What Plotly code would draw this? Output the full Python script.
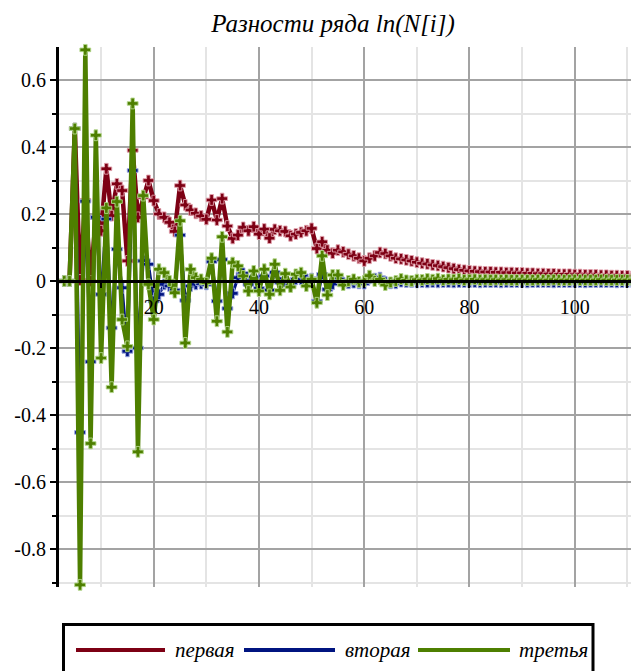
import plotly.graph_objects as go

# ---------------- data ----------------
i_values = list(range(3, 114))

first_diff = [
    0, 0, 0.455, 0.003, 0.241, 0.0, 0.19, 0.15, 0.335, 0.195,
    0.29, 0.27, 0.06, 0.39, 0.19, 0.25, 0.30, 0.24, 0.20, 0.19,
    0.175, 0.148, 0.285, 0.227, 0.212, 0.202, 0.194, 0.184, 0.242, 0.182,
    0.246, 0.164, 0.127, 0.137, 0.16, 0.15, 0.162, 0.14, 0.155, 0.128,
    0.154, 0.15, 0.148, 0.135, 0.14, 0.145, 0.15, 0.157, 0.097, 0.117,
    0.092, 0.083, 0.092, 0.087, 0.08, 0.075, 0.068, 0.06, 0.068, 0.075,
    0.085, 0.082, 0.075, 0.068, 0.066, 0.063, 0.06, 0.056, 0.053, 0.051,
    0.048, 0.046, 0.043, 0.040, 0.037, 0.034, 0.032, 0.030, 0.029, 0.028,
    0.027, 0.027, 0.026, 0.026, 0.025, 0.025, 0.024, 0.024, 0.023, 0.023,
    0.022, 0.022, 0.021, 0.021, 0.020, 0.020, 0.020, 0.019, 0.019, 0.018,
    0.018, 0.018, 0.017, 0.017, 0.016, 0.016, 0.015, 0.015, 0.014, 0.014,
    0.014,
]

second_diff = [
    0, 0, 0.455, -0.452, 0.238, -0.241, 0.19, -0.04, 0.185, -0.14,
    0.095, -0.02, -0.21, 0.33, -0.20, 0.06, 0.05, -0.06, -0.04, -0.01,
    -0.015, -0.027, 0.137, -0.058, -0.015, -0.01, -0.008, -0.01, 0.058, -0.06,
    0.064, -0.082, -0.037, 0.01, 0.023, -0.01, 0.012, -0.022, 0.015, -0.027,
    0.026, -0.004, -0.002, -0.013, 0.005, 0.005, 0.005, 0.007, -0.06, 0.02,
    -0.025, -0.009, 0.009, -0.005, -0.007, -0.005, -0.007, -0.008, 0.008, 0.007,
    0.01, -0.003, -0.007, -0.007, -0.002, -0.003, -0.003, -0.004, -0.003, -0.004,
    -0.003, -0.004, -0.003, -0.003, -0.004, -0.003, -0.003, -0.003, -0.003, -0.004,
    -0.003, -0.003, -0.003, -0.004, -0.003, -0.003, -0.003, -0.003, -0.004, -0.003,
    -0.003, -0.003, -0.003, -0.004, -0.003, -0.003, -0.003, -0.003, -0.003, -0.004,
    -0.003, -0.003, -0.003, -0.003, -0.003, -0.004, -0.003, -0.003, -0.003, -0.003,
    -0.003,
]

third_diff = [
    0, 0, 0.455, -0.907, 0.69, -0.485, 0.435, -0.23, 0.218, -0.317,
    0.237, -0.115, -0.195, 0.53, -0.51, 0.255, -0.01, -0.115, 0.035, 0.025,
    0.0, -0.035, 0.18, -0.185, 0.035, 0.01, 0.005, -0.005, 0.068, -0.12,
    0.132, -0.152, 0.055, 0.045, 0.015, -0.03, 0.03, -0.03, 0.035, -0.04,
    0.05, -0.028, 0.022, -0.018, 0.02, 0.025, -0.015, 0.005, -0.065, 0.075,
    -0.042, 0.018, 0.018, -0.012, 0.0, 0.005, -0.003, 0.0, 0.016, 0.0,
    0.005, -0.012, -0.004, 0.0, 0.006, 0.002, 0.0, 0.004, 0.003, 0.006,
    0.004, 0.007, 0.003, 0.005, 0.004, 0.006, 0.003, 0.004, 0.005, 0.003,
    0.004, 0.003, 0.004, 0.003, 0.004, 0.003, 0.003, 0.004, 0.003, 0.003,
    0.004, 0.003, 0.003, 0.004, 0.003, 0.003, 0.003, 0.004, 0.003, 0.003,
    0.003, 0.003, 0.004, 0.003, 0.003, 0.003, 0.003, 0.003, 0.003, 0.003,
    0.003,
]

series_names = ["первая", "вторая", "третья"]
series_values = [first_diff, second_diff, third_diff]

x_tick_vals = [20, 40, 60, 80, 100]
x_tick_text = ["20", "40", "60", "80", "100"]
y_tick_vals = [-0.8, -0.6, -0.4, -0.2, 0, 0.2, 0.4, 0.6]
y_tick_text = ["-0.8", "-0.6", "-0.4", "-0.2", "0", "0.2", "0.4", "0.6"]

title_text = "Разности ряда ln(N[i])"

# ---------------- styling ----------------
series_colors = ["#7d0014", "#001480", "#4e7f00"]
halo_colors = ["rgba(225,160,172,0.9)", "rgba(160,172,225,0.9)", "rgba(180,215,140,0.9)"]
line_widths = [4.5, 3, 4.5]

# the page body adds an 8px margin: positions below are window pixels
OFF = 8
WIN_W, WIN_H = 639, 671
W, H = WIN_W - OFF, WIN_H - OFF


def fx(px):
    return px - OFF


PLOT_L, PLOT_R, PLOT_T, PLOT_B = fx(59), fx(639), fx(47), fx(587)
X0 = 2
PX_PER_X = 5.2625
X1 = X0 + (PLOT_R - PLOT_L) / PX_PER_X
Y_TOP = 0.6985
PX_PER_Y = 335.0
Y_BOT = Y_TOP - (PLOT_B - PLOT_T) / PX_PER_Y
zero_pos = (0 - Y_BOT) / (Y_TOP - Y_BOT)

SERIF = "Liberation Serif"
MAJOR_GRID = "#a3a3a3"
MINOR_GRID = "#e4e4e4"

fig = go.Figure()
for name, vals, col, halo, lw in zip(series_names, series_values, series_colors,
                                     halo_colors, line_widths):
    fig.add_trace(go.Scatter(
        x=i_values, y=vals, name=name, mode="lines+markers",
        line=dict(color=col, width=lw),
        marker=dict(symbol="cross", size=9, color=col,
                    line=dict(color=halo, width=1)),
        cliponaxis=False, showlegend=False,
    ))


def px_to_paper_x(px):
    return (fx(px) - PLOT_L) / (PLOT_R - PLOT_L)


def px_to_paper_y(py):
    return (PLOT_B - fx(py)) / (PLOT_B - PLOT_T)


shapes = []
annotations = []
# legend box
shapes.append(dict(type="rect", xref="paper", yref="paper",
                   x0=px_to_paper_x(63.5), x1=px_to_paper_x(593),
                   y0=px_to_paper_y(705), y1=px_to_paper_y(624.5),
                   line=dict(color="black", width=3), fillcolor="white",
                   layer="above"))
legend_line_px = [(76, 165), (244, 335), (418, 510)]
legend_text_px = [173, 343, 517]
LEG_Y = 650
for name, col, (a, b), tx in zip(series_names, series_colors, legend_line_px, legend_text_px):
    shapes.append(dict(type="line", xref="paper", yref="paper",
                       x0=px_to_paper_x(a), x1=px_to_paper_x(b),
                       y0=px_to_paper_y(LEG_Y), y1=px_to_paper_y(LEG_Y),
                       line=dict(color=col, width=4), layer="above"))
    annotations.append(dict(xref="paper", yref="paper", x=px_to_paper_x(tx),
                            y=px_to_paper_y(LEG_Y), xanchor="left", yanchor="middle",
                            text=name, showarrow=False,
                            font=dict(family=SERIF, size=21, color="black", style="italic")))

axis_font = dict(family=SERIF, size=20, color="black")

TITLE_SIZE = 25
TITLE_CENTER_Y = fx(23)

fig.update_layout(
    width=W, height=H,
    font=dict(family=SERIF, color="black"),
    margin=dict(l=PLOT_L, r=W - PLOT_R, t=PLOT_T, b=H - PLOT_B, pad=0, autoexpand=False),
    paper_bgcolor="white", plot_bgcolor="white",
    showlegend=False,
    title=dict(text=title_text, x=fx(333) / W, xref="container", xanchor="center",
               y=1 - TITLE_CENTER_Y / H, yref="container", yanchor="middle",
               pad=dict(t=0, b=0, l=0, r=0),
               font=dict(family=SERIF, size=TITLE_SIZE, color="black", style="italic")),
    xaxis=dict(
        range=[X0, X1], anchor="free", position=zero_pos,
        showline=True, linecolor="black", linewidth=3,
        ticks="outside", ticklen=5, tickwidth=2, tickcolor="black",
        tickmode="array", tickvals=x_tick_vals, ticktext=x_tick_text,
        tickfont=axis_font, ticklabelstandoff=2, automargin=False,
        showgrid=True, gridcolor=MAJOR_GRID, gridwidth=2,
        minor=dict(tickmode="linear", tick0=0, dtick=10, ticks="outside",
                   ticklen=5, tickwidth=2, tickcolor="black",
                   showgrid=True, gridcolor=MINOR_GRID, gridwidth=2),
        zeroline=False, layer="above traces",
    ),
    yaxis=dict(
        range=[Y_BOT, Y_TOP],
        showline=True, linecolor="black", linewidth=3,
        ticks="outside", ticklen=6, tickwidth=2, tickcolor="black",
        tickmode="array", tickvals=y_tick_vals, ticktext=y_tick_text,
        tickfont=axis_font, automargin=False,
        showgrid=True, gridcolor=MAJOR_GRID, gridwidth=2,
        minor=dict(tickmode="linear", tick0=0, dtick=0.1, ticks="outside",
                   ticklen=4, tickwidth=2, tickcolor="black",
                   showgrid=True, gridcolor=MINOR_GRID, gridwidth=2),
        zeroline=False, layer="above traces",
    ),
    shapes=shapes,
    annotations=annotations,
)

fig.write_html("out.html")
